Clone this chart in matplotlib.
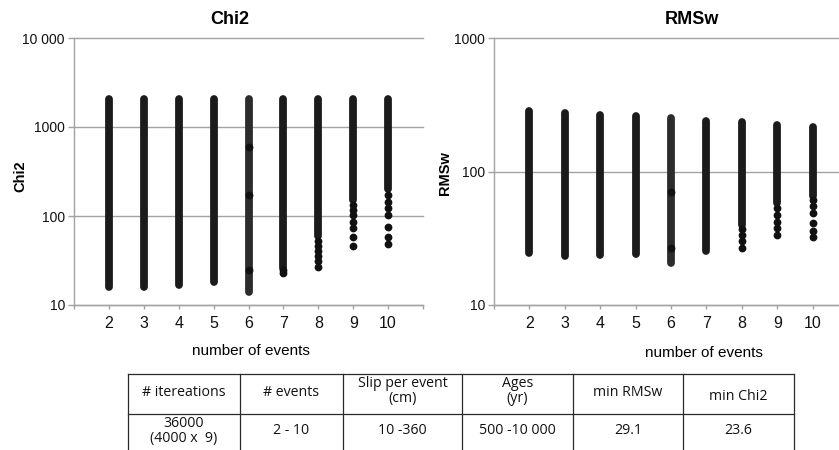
import matplotlib
matplotlib.use("Agg")
import matplotlib.pyplot as plt
from matplotlib.lines import Line2D
from matplotlib.ticker import FixedLocator, NullLocator

plt.rcParams['font.family'] = ['Liberation Sans', 'DejaVu Sans']

events = [2, 3, 4, 5, 6, 7, 8, 9, 10]

# Chi2: dense streak per run (low / high) plus the isolated dots under it
chi2_high = [2050, 2050, 2050, 2050, 2050, 2050, 2050, 2050, 2050]
chi2_low = [15.8, 15.8, 16.8, 18.3, 14.1, 26.0, 60.0, 151.0, 200.0]
chi2_dots = {
    6: [24.6, 170.0, 600.0],
    7: [23.1, 24.5],
    8: [26.9, 31.0, 35.5, 40.5, 46.0, 52.0],
    9: [46.0, 58.5, 72.7, 86.3, 102.6, 116.8, 133.0],
    10: [48.0, 57.6, 75.9, 102.6, 122.0, 145.0, 172.0],
}

# RMSw: same layout
rmsw_high = [282, 274, 266, 259, 250, 241, 233, 224, 215]
rmsw_low = [24.4, 23.4, 23.7, 24.0, 20.5, 25.4, 40.0, 58.0, 66.0]
rmsw_dots = {
    6: [26.6, 70.8],
    8: [26.6, 29.9, 33.5, 37.0],
    9: [33.5, 37.6, 42.2, 47.3, 53.1],
    10: [32.5, 36.1, 41.0, 48.7, 54.7, 61.3],
}

chi2_ticks = [10, 100, 1000, 10000]
chi2_ticklabels = ['10', '100', '1000', '10 000']
rmsw_ticks = [10, 100, 1000]
rmsw_ticklabels = ['10', '100', '1000']

table_head = ['# itereations', '# events', 'Slip per event\n(cm)', 'Ages\n(yr)',
              'min RMSw', 'min Chi2']
table_row = ['36000\n(4000 x  9)', '2 - 10', '10 -360', '500 -10 000', '29.1', '23.6']

W, H = 839, 450
fig = plt.figure(figsize=(W / 100, H / 100), dpi=100)


def fx(px):
    return px / W


def fy(py):
    return 1 - py / H


DOT = 5.6        # marker diameter in points
INK = '#1b1b1b'
GRID = '#a3a3a3'


def panel(ax, high, low, dots, ticks, ticklabels):
    for x, lo, hi in zip(events, low, high):
        col = '#2c2c2c' if x == 6 else INK
        ax.vlines(x, lo, hi, colors=col, linewidth=DOT, capstyle='round', zorder=3)
    for x, vals in dots.items():
        ax.plot([x] * len(vals), vals, 'o', color='#111111', markersize=DOT,
                markeredgewidth=0, zorder=4)
    ax.set_yscale('log')
    ax.set_ylim(ticks[0], ticks[-1])
    ax.set_xlim(1, 11)
    ax.yaxis.set_major_locator(FixedLocator(ticks))
    ax.yaxis.set_minor_locator(NullLocator())
    ax.set_yticklabels(ticklabels)
    ax.set_xticks(list(range(1, 12)))
    ax.set_xticklabels([''] + [str(e) for e in events] + [''])
    for s in ('top', 'right'):
        ax.spines[s].set_visible(False)
    for s in ('left', 'bottom'):
        ax.spines[s].set_color(GRID)
        ax.spines[s].set_linewidth(1.0)
    ax.grid(axis='y', color=GRID, linewidth=1.0, zorder=0)
    ax.grid(axis='x', visible=False)
    ax.tick_params(axis='y', length=4.5, width=1.0, color=GRID, pad=2,
                   labelsize=10, labelcolor='#111111')
    ax.tick_params(axis='x', length=3, width=1.0, color=GRID, pad=5,
                   labelsize=11.5, labelcolor='#111111')
    for gl in ax.get_ygridlines():
        gl.set_clip_on(False)


ax1 = fig.add_axes([fx(74), fy(305), fx(349), fy(38) - fy(305)])
panel(ax1, chi2_high, chi2_low, chi2_dots, chi2_ticks, chi2_ticklabels)

ax2 = fig.add_axes([fx(494), fy(305), fx(354), fy(38) - fy(305)])
panel(ax2, rmsw_high, rmsw_low, rmsw_dots, rmsw_ticks, rmsw_ticklabels)

# titles and axis labels
fig.text(fx(230), fy(20), 'Chi2', ha='center', va='center', fontsize=13, fontweight='bold')
fig.text(fx(692), fy(20), 'RMSw', ha='center', va='center', fontsize=13, fontweight='bold')
fig.text(fx(20), fy(176), 'Chi2', ha='center', va='center', rotation=90,
         fontsize=10.5, fontweight='bold')
fig.text(fx(445), fy(173), 'RMSw', ha='center', va='center', rotation=90,
         fontsize=10.5, fontweight='bold')
fig.text(fx(251), fy(351), 'number of events', ha='center', va='center', fontsize=11)
fig.text(fx(704), fy(353), 'number of events', ha='center', va='center', fontsize=11)

# summary table below the panels
col_edges = [128, 240, 343, 462, 573, 683, 794]
row_top, row_mid = 374, 414
line_kw = dict(color='#2a2a2a', linewidth=0.9, transform=fig.transFigure)
for yy in (row_top, row_mid):
    fig.add_artist(Line2D([fx(col_edges[0]), fx(col_edges[-1])], [fy(yy), fy(yy)], **line_kw))
for xx in col_edges:
    fig.add_artist(Line2D([fx(xx), fx(xx)], [fy(row_top), 0], **line_kw))

head_y = [392, 392, 391, 391, 393, 397]
body_y = [431, 430, 430, 430, 430, 430]
tfont = dict(family=['Open Sans', 'DejaVu Sans'], fontsize=10.2, color='#111111',
             ha='center', va='center', linespacing=0.95)
for i, (h, b) in enumerate(zip(table_head, table_row)):
    cx = (col_edges[i] + col_edges[i + 1]) / 2
    fig.text(fx(cx), fy(head_y[i]), h, **tfont)
    fig.text(fx(cx), fy(body_y[i]), b, **tfont)

fig.savefig('out.png', dpi=100)
